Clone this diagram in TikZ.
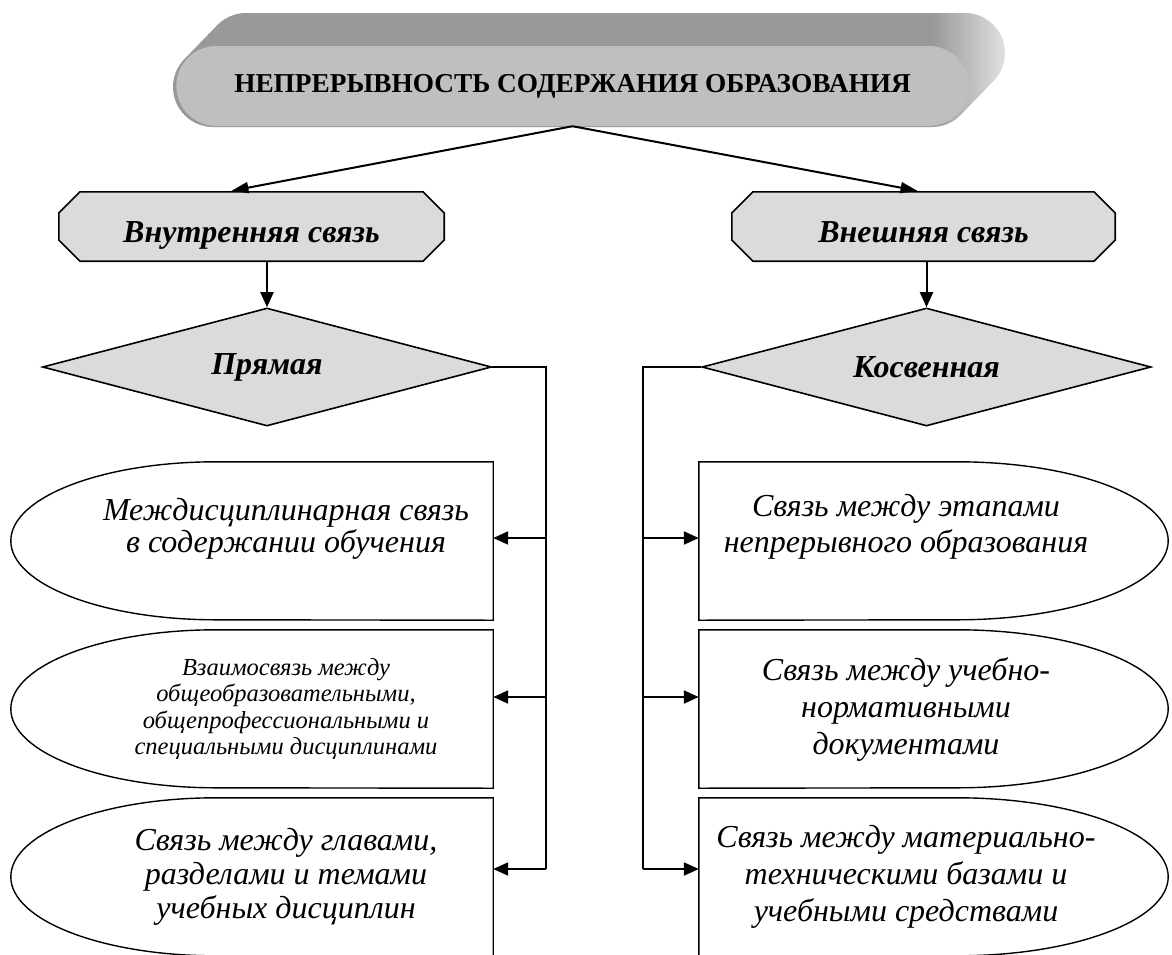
\documentclass[tikz,border=0pt]{standalone}
\usepackage{fontspec}
\setmainfont{Liberation Serif}
\usetikzlibrary{shapes.geometric,shapes.misc,arrows.meta}
\tikzset{
	line/.style={line width=2pt},
	arr/.style={line width=2pt,-{Triangle[length=15pt,width=13pt]}},
	octa/.style={rectangle, minimum height=71pt, inner sep=0pt, text height=31pt, text depth=0pt,
		font=\bfseries\itshape\fontsize{32}{36}\selectfont,
		path picture={\draw[line width=1.6pt, fill=black!14]
			([shift={(22pt,-0.8pt)}]path picture bounding box.north west)
			-- ([shift={(-22pt,-0.8pt)}]path picture bounding box.north east)
			-- ([shift={(-0.8pt,-22pt)}]path picture bounding box.north east)
			-- ([shift={(-0.8pt,22pt)}]path picture bounding box.south east)
			-- ([shift={(-22pt,0.8pt)}]path picture bounding box.south east)
			-- ([shift={(22pt,0.8pt)}]path picture bounding box.south west)
			-- ([shift={(0.8pt,22pt)}]path picture bounding box.south west)
			-- ([shift={(0.8pt,-22pt)}]path picture bounding box.north west) -- cycle;}},
	choice/.style={diamond, aspect=3.8, draw, line width=1.6pt, fill=black!14, inner sep=0pt,
		minimum width=449pt, minimum height=118pt, font=\bfseries\itshape\fontsize{32}{36}\selectfont},
	lbox/.style={minimum width=414pt, minimum height=158pt, inner sep=0pt, align=center,
		font=\itshape\fontsize{32}{34}\selectfont,
		append after command={\pgfextra{\draw[line width=1.4pt] (\tikzlastnode.north east)
			-- ([xshift=137pt]\tikzlastnode.north west)
			arc[start angle=90,end angle=270,x radius=205pt,y radius=79pt]
			-- (\tikzlastnode.south east) -- cycle;}}},
	rbox/.style={minimum width=414pt, minimum height=158pt, inner sep=0pt, align=center,
		font=\itshape\fontsize{32}{37}\selectfont,
		append after command={\pgfextra{\draw[line width=1.4pt] (\tikzlastnode.north west)
			-- ([xshift=-156pt]\tikzlastnode.north east)
			arc[start angle=90,end angle=-90,x radius=211pt,y radius=79pt]
			-- (\tikzlastnode.south west) -- cycle;}}}
}
\begin{document}
\begin{tikzpicture}[x=1pt,y=-1pt]
	\useasboundingbox (0,0) rectangle (1172,954);
	% banner
	\begin{scope}
		\clip (213,127) -- (932,127) arc[start angle=270,end angle=315,radius=40pt] -- ++(33,-34)
			arc[start angle=-45,end angle=90,radius=40pt] -- (246,13)
			arc[start angle=90,end angle=135,radius=40pt] -- ++(-33,34)
			arc[start angle=135,end angle=270,radius=40pt] -- cycle;
		\fill[black!40] (150,0) rectangle (932,130);
		\shade[left color=black!40, right color=black!10] (932,0) rectangle (1010,130);
	\end{scope}
	\node[rounded rectangle, fill=black!25, minimum width=799pt, minimum height=80pt,
		font=\bfseries\fontsize{27.3}{30}\selectfont] (title) at (572.5,86)
		{НЕПРЕРЫВНОСТЬ СОДЕРЖАНИЯ ОБРАЗОВАНИЯ};
	%
	\node[octa, minimum width=387pt] (inner) at (251.5,226.5) {Внутренняя связь};
	\node[octa, minimum width=385pt] (outer) at (923.5,226.5) {Внешняя связь};
	\node[choice] (direct) at (267,367) {Прямая};
	\node[choice] (indirect) at (926.5,367) {Косвенная};
	%
	\node[lbox, font=\itshape\fontsize{32}{32}\selectfont] (l1) at (286,541)
		{Междисциплинарная связь\\в содержании обучения\\~};
	\node[lbox, font=\itshape\fontsize{24.5}{26.5}\selectfont] (l2) at (286,709)
		{Взаимосвязь между\\общеобразовательными,\\общепрофессиональными и\\специальными дисциплинами};
	\node[lbox] (l3) at (286,877) {Связь между главами,\\разделами и темами\\учебных дисциплин};
	\node[rbox, font=\itshape\fontsize{32}{36}\selectfont] (r1) at (906,541)
		{Связь между этапами\\непрерывного образования\\~};
	\node[rbox] (r2) at (906,709) {Связь между учебно-\\нормативными\\документами};
	\node[rbox] (r3) at (906,877) {Связь между материально-\\техническими базами и\\учебными средствами};
	%
	\draw[line width=2pt,-{Triangle[length=17pt,width=11pt]}] (title.south) -- ([xshift=-20pt]inner.north);
	\draw[line width=2pt,-{Triangle[length=17pt,width=11pt]}] (title.south) -- ([xshift=-6pt]outer.north);
	\draw[arr] (direct.north |- inner.south) -- (direct.north);
	\draw[arr] (indirect.north |- outer.south) -- (indirect.north);
	%
	\foreach \n/\d in {1/3,2/12,3/8}{
		\coordinate (la\n) at ([yshift=\d pt]l\n.east);
		\coordinate (ra\n) at ([yshift=\d pt]r\n.west);
	}
	\draw[line] (direct.east) -- ++(54,0) coordinate (lbus) -- (lbus |- la3);
	\draw[line] (indirect.west) -- ++(-58,0) coordinate (rbus) -- (rbus |- ra3);
	\foreach \n in {1,2,3}{
		\draw[arr] (lbus |- la\n) -- (la\n);
		\draw[arr] (rbus |- ra\n) -- (ra\n);
	}
\end{tikzpicture}
\end{document}
